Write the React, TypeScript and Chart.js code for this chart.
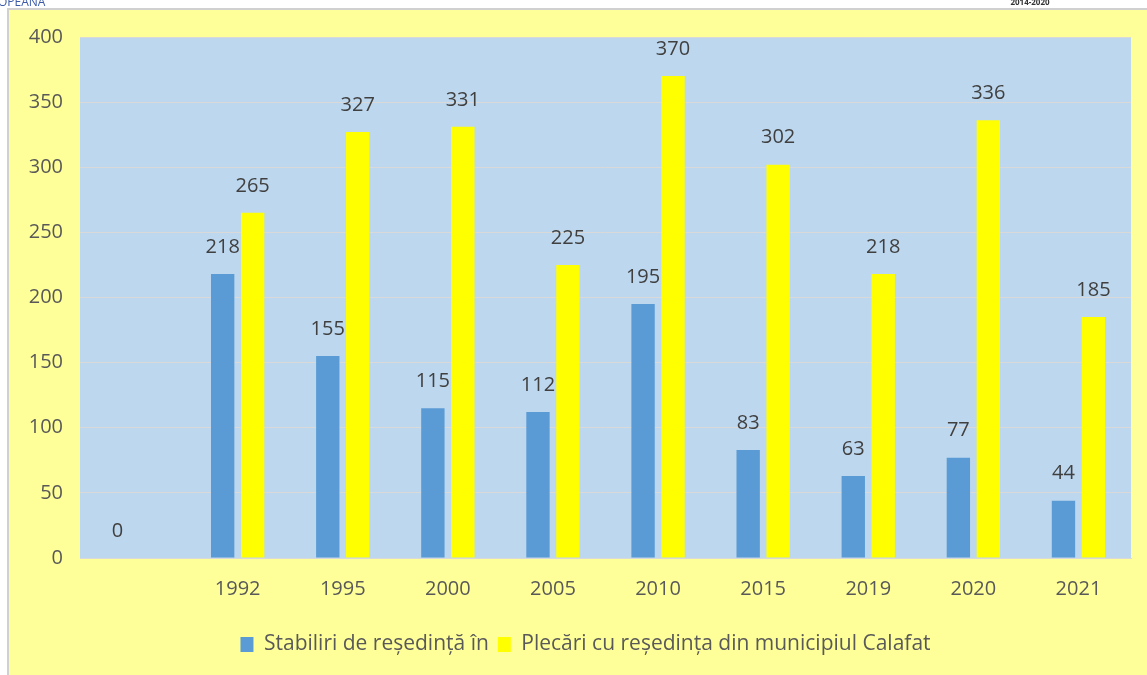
import React, { useEffect, useRef } from "react";
import { Chart, registerables } from "chart.js";

Chart.register(...registerables);

const categories = ["", "1992", "1995", "2000", "2005", "2010", "2015", "2019", "2020", "2021"];
const stabiliri = [0, 218, 155, 115, 112, 195, 83, 63, 77, 44];
const plecari = [null, 265, 327, 331, 225, 370, 302, 218, 336, 185];
const seriesNames = ["Stabiliri de reședință în", "Plecări cu reședința din municipiul Calafat"];
const yTicks = { min: 0, max: 400, step: 50 };

const FONT = "'Open Sans', 'Noto Sans', sans-serif";

const bgPlugin = {
  id: "bgPlugin",
  afterLayout(chart: any) {
    if (chart.legend) {
      chart.legend.left = 40;
    }
  },
  beforeDraw(chart: any) {
    const { ctx, width, height, chartArea } = chart;
    ctx.save();
    ctx.fillStyle = "#ffffff";
    ctx.fillRect(0, 0, width, height);
    ctx.fillStyle = "#FFFF99";
    ctx.fillRect(9, 10, width - 9, height - 10);
    ctx.strokeStyle = "#D0D0D0";
    ctx.lineWidth = 2;
    ctx.beginPath();
    ctx.moveTo(8, height);
    ctx.lineTo(8, 9);
    ctx.lineTo(width, 9);
    ctx.stroke();
    // header remnants
    ctx.fillStyle = "#3B5BA8";
    ctx.font = "12px " + FONT;
    ctx.textBaseline = "alphabetic";
    ctx.textAlign = "left";
    ctx.fillText("OPEANA", -2, 6);
    ctx.fillStyle = "#333333";
    ctx.font = "bold 8px " + FONT;
    ctx.textAlign = "center";
    ctx.fillText("2014-2020", 1030, 5);
    ctx.fillStyle = "#BDD7EE";
    ctx.fillRect(chartArea.left, chartArea.top, chartArea.right - chartArea.left, chartArea.bottom - chartArea.top);
    ctx.restore();
  },
};

const labelPlugin = {
  id: "labelPlugin",
  afterDatasetsDraw(chart: any) {
    const { ctx } = chart;
    ctx.save();
    ctx.font = "20px " + FONT;
    ctx.fillStyle = "#404040";
    ctx.textAlign = "center";
    ctx.textBaseline = "middle";
    chart.data.datasets.forEach((ds: any, di: number) => {
      const meta = chart.getDatasetMeta(di);
      meta.data.forEach((el: any, i: number) => {
        const v = ds.data[i];
        if (v === null || v === undefined) return;
        ctx.fillText(String(v), el.x, el.y - 27);
      });
    });
    ctx.restore();
  },
};

export default function App() {
  const ref = useRef<HTMLCanvasElement>(null);
  useEffect(() => {
    if (!ref.current) return;
    const chart = new Chart(ref.current, {
      type: "bar",
      data: {
        labels: categories,
        datasets: [
          {
            label: seriesNames[0],
            data: stabiliri,
            backgroundColor: "#5B9BD5",
            categoryPercentage: 0.57,
            barPercentage: 0.78,
          },
          {
            label: seriesNames[1],
            data: plecari,
            backgroundColor: "#FFFF00",
            categoryPercentage: 0.57,
            barPercentage: 0.78,
          },
        ],
      },
      options: {
        animation: false,
        responsive: false,
        layout: { padding: { left: 0, right: 16, top: 37, bottom: 10 } },
        plugins: {
          tooltip: { enabled: false },
          legend: {
            position: "bottom",
            labels: {
              boxWidth: 13,
              boxHeight: 15,
              padding: 9,
              color: "#595959",
              font: { family: FONT, size: 21 },
            },
          },
        },
        scales: {
          x: {
            grid: { display: false, drawTicks: false },
            border: { display: true, color: "#D9D9D9", width: 1 },
            ticks: { color: "#595959", font: { family: FONT, size: 20 }, padding: 19, maxRotation: 0 },
            afterFit(scale: any) {
              scale.height = 67;
            },
          },
          y: {
            min: yTicks.min,
            max: yTicks.max,
            grid: { color: "#D9D9D9", lineWidth: 1, drawTicks: false },
            border: { display: false },
            ticks: { stepSize: yTicks.step, color: "#595959", font: { family: FONT, size: 20 }, padding: 17 },
            afterFit(scale: any) {
              scale.width = 80;
            },
          },
        },
      },
      plugins: [bgPlugin, labelPlugin],
    } as any);
    return () => chart.destroy();
  }, []);
  return (
    <canvas
      ref={ref}
      width={1147}
      height={675}
      style={{ position: "absolute", left: 0, top: 0, width: 1147, height: 675 }}
    />
  );
}
